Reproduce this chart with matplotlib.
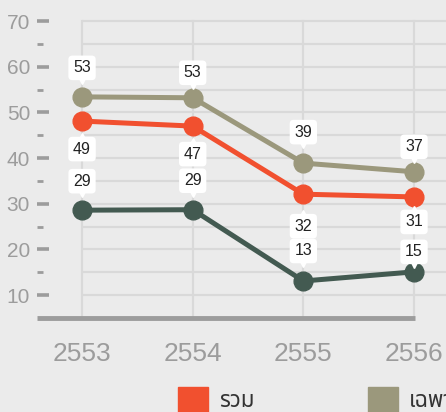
import matplotlib
matplotlib.use('Agg')
import matplotlib.pyplot as plt
from matplotlib.transforms import offset_copy

years = ['2553', '2554', '2555', '2556']
total = [48.1, 47.0, 32.1, 31.5]
total_labels = ['49', '47', '32', '31']
specific = [53.4, 53.2, 38.9, 37.0]
specific_labels = ['53', '53', '39', '37']
other = [28.6, 28.7, 13.1, 15.1]
other_labels = ['29', '29', '13', '15']

legend_names = ['รวม', 'เฉพาะ']

bg = '#ebebeb'
grid_c = '#d9d9d9'
axis_c = '#9c9c9c'
red = '#f1502f'
olive = '#9b987c'
dark = '#435a51'

# label distance from the marker, in pixels (negative = below)
specific_shift = [29, 25, 31, 25]
total_shift = [-28, -28, -32, -25]
other_shift = [29, 29, 30, 20]

plt.rcParams['font.family'] = ['Liberation Sans', 'Noto Sans Thai', 'DejaVu Sans']

fig = plt.figure(figsize=(4.46, 4.12), dpi=100, facecolor=bg)
ax = fig.add_axes([37 / 446, 94 / 412, 409 / 446, 318 / 412])
ax.set_facecolor(bg)
for s in ax.spines.values():
    s.set_visible(False)

x = list(range(len(years)))
ax.set_xlim(-0.407, 3.289)
ax.set_ylim(5, 74.6)

# grid
for v in range(10, 75, 5):
    ax.plot([0, 3.289], [v, v], color=grid_c, lw=1.6, zorder=1, solid_capstyle='butt')
for xi in x:
    ax.plot([xi, xi], [5, 70], color=grid_c, lw=1.6, zorder=1)
ax.plot([-0.407, 3.01], [5, 5], color=axis_c, lw=3.5, zorder=2, solid_capstyle='butt', clip_on=False)

# ticks
ax.set_yticks(range(10, 71, 10))
ax.set_yticks(range(15, 70, 10), minor=True)
ax.tick_params(axis='y', which='major', direction='in', length=8.3, width=2.6,
               color=axis_c, labelcolor=axis_c, labelsize=15, pad=5)
ax.tick_params(axis='y', which='minor', direction='in', length=4.0, width=2.0, color=axis_c)
ax.set_xticks(x)
ax.set_xticklabels(years)
ax.tick_params(axis='x', length=0, labelcolor=axis_c, labelsize=19, pad=17)

series = [
    (specific, specific_labels, olive, specific_shift),
    (total, total_labels, red, total_shift),
    (other, other_labels, dark, other_shift),
]
for vals, labs, c, shifts in series:
    ax.plot(x, vals, color=c, lw=3.6, marker='o', markersize=13.5, zorder=3, clip_on=False)

for vals, labs, c, shifts in series:
    for xi, v, lab, sh in zip(x, vals, labs, shifts):
        ax.annotate(lab, xy=(xi, v), xytext=(0, sh * 0.72), textcoords='offset points',
                    ha='center', va='center', fontsize=11.5, color='#222222', zorder=5,
                    bbox=dict(boxstyle='round,pad=0.3,rounding_size=0.25', fc='white', ec='none'))
        sign = 1 if sh > 0 else -1
        tr = offset_copy(ax.transData, fig=fig, x=0, y=(sh - sign * 13) * 0.72, units='points')
        ax.plot([xi], [v], marker='v' if sh > 0 else '^', color='white', markersize=5,
                transform=tr, zorder=5, clip_on=False)

# legend at the bottom (runs off the right edge)
leg_colors = [red, olive]
leg_x = [178, 368]
for name, c, lx in zip(legend_names, leg_colors, leg_x):
    fig.patches.append(plt.Rectangle((lx / 446, 0), 30 / 446, 25 / 412, color=c,
                                     transform=fig.transFigure))
    fig.text((lx + 41) / 446, 5 / 412, name, color='#333333', fontsize=16, va='baseline',
             ha='left', family=['Noto Sans Thai', 'Liberation Sans'])

fig.savefig('out.png', dpi=100, facecolor=bg)
